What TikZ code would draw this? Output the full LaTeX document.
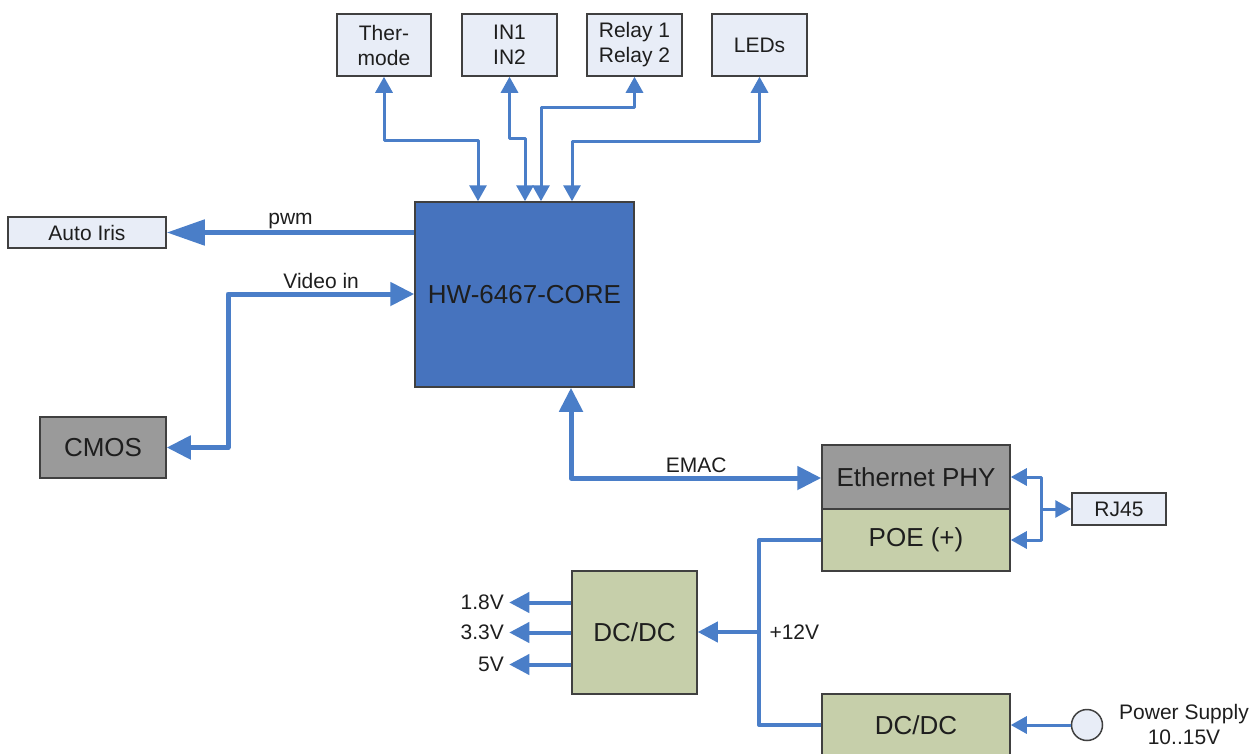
\documentclass[tikz,border=0pt]{standalone}
\usepackage{fontspec}
\setmainfont{Liberation Sans}
\usetikzlibrary{arrows.meta}

\definecolor{wire}{RGB}{74,126,200}
\definecolor{corefill}{RGB}{70,115,190}
\definecolor{lightfill}{RGB}{232,237,247}
\definecolor{grayfill}{RGB}{154,154,154}
\definecolor{greenfill}{RGB}{198,207,170}
\definecolor{edge}{RGB}{64,64,64}
\definecolor{ink}{RGB}{30,30,30}

\begin{document}
\begin{tikzpicture}[x=1pt,y=-1pt,
  blk/.style={draw=edge,line width=1.5pt,inner sep=0pt,text=ink,align=center},
  small/.style={font=\fontsize{21}{25}\selectfont,text=ink},
  big/.style={font=\fontsize{26}{30}\selectfont},
  lite/.style={blk,small,fill=lightfill},
  grey/.style={blk,big,fill=grayfill},
  olive/.style={blk,big,fill=greenfill},
  sig/.style={draw=wire,line width=3pt,line join=round,>={Triangle[length=16pt,width=17pt]}},
  pwr/.style={draw=wire,line width=4pt,line join=round,>={Triangle[length=20pt,width=20pt]}},
  fat/.style={draw=wire,line width=5pt,line join=round,>={Triangle[length=24pt,width=23pt]}}]
  % page frame 1256 x 753
  \useasboundingbox (0,0) rectangle (1256,753);
  \clip (0,0) rectangle (1256,753);
  % peripheral boxes on top
  \node[lite,minimum width=94pt,minimum height=62pt] (therm) at (384,45) {Ther-\\mode};
  \node[lite,minimum width=95pt,minimum height=62pt] (inx) at (509.5,45) {IN1\\IN2};
  \node[lite,minimum width=95pt,minimum height=62pt] (relay) at (634.5,45) {Relay 1\\Relay 2};
  \node[lite,minimum width=95pt,minimum height=62pt] (leds) at (759.5,45) {LEDs};
  % core
  \node[blk,big,fill=corefill,minimum width=219pt,minimum height=185pt] (core) at (524.5,294.5) {HW-6467-CORE};
  % camera side
  \node[lite,minimum width=158pt,minimum height=31pt] (iris) at (87,232.5) {Auto Iris};
  \node[grey,minimum width=126pt,minimum height=61pt] (cmos) at (103,447.5) {CMOS};
  % network and power
  \node[grey,minimum width=188pt,minimum height=64pt] (phy) at (916,477) {Ethernet PHY};
  \node[olive,minimum width=188pt,minimum height=62pt] (poe) at (916,540) {POE (+)};
  \node[lite,minimum width=94pt,minimum height=32pt] (rjbox) at (1119,509) {RJ45};
  \node[olive,minimum width=125pt,minimum height=123pt] (dca) at (634.5,632.5) {DC/DC};
  \node[olive,minimum width=188pt,minimum height=62pt] (dcb) at (916,725) {DC/DC};
  \node[circle,draw=edge,fill=lightfill,line width=1.5pt,minimum size=31pt,inner sep=0pt] (psu) at (1087,725) {};
  \node[small,align=center] (psulbl) at (1184,724) {Power Supply\\10..15V};

  % bends of the thin buses
  \coordinate (ta) at (478,140);
  \coordinate (tb) at (525,138);
  \coordinate (tc) at (541,107);
  \coordinate (td) at (572,141);
  \draw[sig,<->] (therm.south) |- (ta) -- (ta |- core.north);
  \draw[sig,<->] (inx.south) |- (tb) -- (tb |- core.north);
  \draw[sig,<->] (relay.south) |- (tc) -- (tc |- core.north);
  \draw[sig,<->] (leds.south) |- (td) -- (td |- core.north);

  % pwm and video
  \draw[fat,-{Triangle[length=38pt,width=25pt]}] (core.west |- iris) -- (iris.east)
    node[midway,above,small,inner sep=1pt] {pwm};
  \coordinate (vb) at (228,294);
  \draw[fat,<->] (cmos.east) -| (vb) -- (vb -| core.west)
    node[pos=0.5,above,small,inner sep=3pt] {Video in};

  % EMAC
  \coordinate (eb) at (571,478);
  \draw[fat,<->] (eb |- core.south) -- (eb) -- (eb -| phy.west)
    node[midway,above,small,inner sep=3pt] {EMAC};

  % RJ45 fork
  \coordinate (rj) at (1041,509);
  \draw[sig,<->] (phy.east) -| (rj) |- (poe.east);
  \draw[sig,->] (rj) -- (rjbox.west);

  % +12V rail
  \coordinate (v12) at (759,632);
  \draw[pwr] (poe.west) -| (v12) |- (dcb.west);
  \draw[pwr,->] (v12) -- (v12 -| dca.east);
  \node[small,anchor=west] (v12lbl) at (766,632) {+12V};
  \foreach \v/\dy in {1.8V/30,3.3V/0,5V/-32}
    \draw[pwr,->] ([yshift=\dy pt]dca.west) -- ++(-62,0) node[left,small] {\v};
  \draw[sig,->] (psu.west) -- (dcb.east);
\end{tikzpicture}
\end{document}
